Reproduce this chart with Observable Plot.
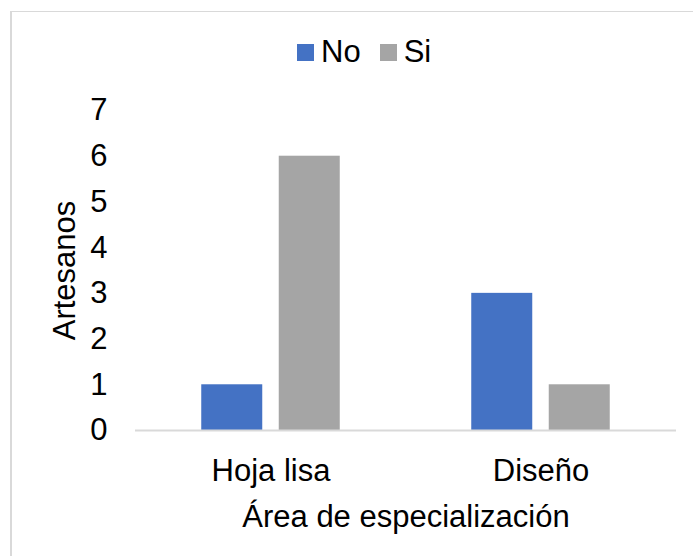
<!DOCTYPE html>
<html>
<head>
<meta charset="utf-8">
<script src="https://cdn.jsdelivr.net/npm/d3@7"></script>
<script src="https://cdn.jsdelivr.net/npm/@observablehq/plot@0.6"></script>
<style>
  html, body { margin: 0; padding: 0; background: #fff; overflow: hidden; }
  #page { position: relative; width: 693px; height: 556px; font-family: "Liberation Sans", Arial, sans-serif; }
  #frame { position: absolute; left: 10px; top: 11px; width: 720px; height: 600px;
           border: 1px solid #d9d9d9; border-left-width: 2px; box-sizing: border-box; }
  #legend { position: absolute; left: 297px; top: 37px; height: 30px; display: flex; align-items: center;
            font-size: 31px; line-height: 30px; color: #000; }
  .item { display: flex; align-items: center; margin-right: 19px; }
  .swatch { width: 17px; height: 17px; margin-right: 7px; }
  #chart { position: absolute; left: 0; top: 80px; }
</style>
</head>
<body>
<div id="page">
  <div id="frame"></div>
  <div id="legend"></div>
  <div id="chart"></div>
</div>
<script>
// Artisans by specialization area, split by answer
const categories = ["Hoja lisa", "Diseño"];
const series = ["No", "Si"];
const noValues = [1, 3];
const siValues = [6, 1];
const yTicks = [0, 1, 2, 3, 4, 5, 6, 7];
const colors = ["#4472C4", "#A5A5A5"];

const rows = categories.flatMap((cat, i) => [
  {cat, serie: "No", value: noValues[i]},
  {cat, serie: "Si", value: siValues[i]}
]);

// Legend
const legend = d3.select("#legend");
series.forEach((s, i) => {
  const item = legend.append("div").attr("class", "item");
  item.append("div").attr("class", "swatch").style("background", colors[i]);
  item.append("span").text(s);
});

// Grouped bars: each series shifted to its side of the category band
const offsets = [-38.75, 38.75];

const chart = Plot.plot({
  width: 693,
  height: 476,
  marginTop: 30,
  marginBottom: 126,
  marginLeft: 135,
  marginRight: 17,
  style: {fontFamily: "Liberation Sans, Arial, sans-serif", fontSize: "31px", color: "#000", background: "transparent", overflow: "visible"},
  x: {domain: categories, paddingInner: 0.5, paddingOuter: 0.25, tickSize: 0, tickPadding: 28,
      label: "Área de especialización", labelAnchor: "center", labelOffset: 96, labelArrow: false},
  y: {domain: [0, 7], ticks: yTicks, tickFormat: "d", tickSize: 0, tickPadding: 28,
      label: "Artesanos", labelAnchor: "center", labelOffset: 83, labelArrow: false},
  color: {domain: series, range: colors},
  marks: [
    ...series.map((s, i) => Plot.barY(rows.filter(d => d.serie === s), {
      x: "cat", y: "value", fill: "serie", dx: offsets[i], insetLeft: 37, insetRight: 37
    })),
    Plot.ruleY([0], {stroke: "#d9d9d9", strokeWidth: 2})
  ]
});
document.getElementById("chart").appendChild(chart);
</script>
</body>
</html>
